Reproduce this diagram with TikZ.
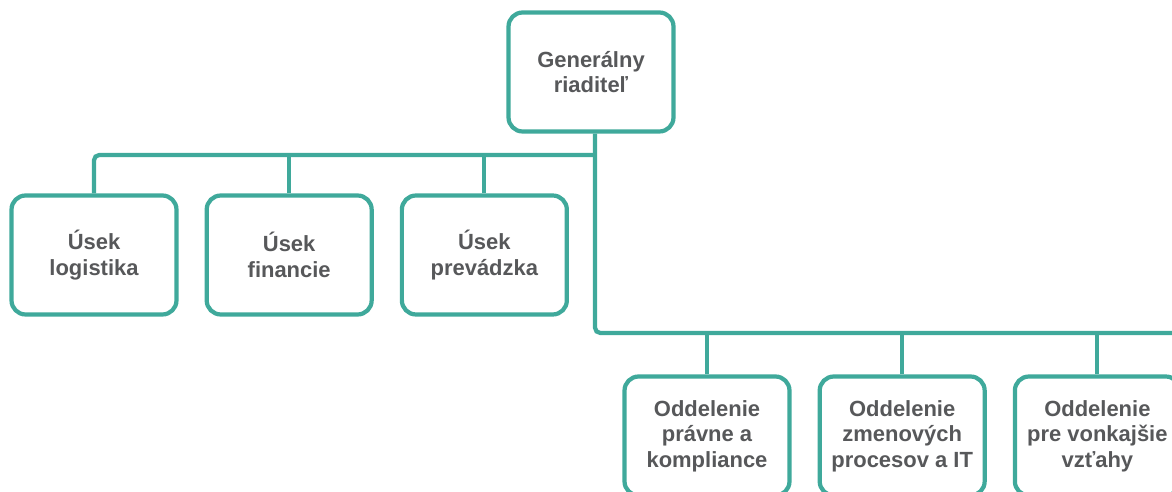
\documentclass[tikz,border=0pt]{standalone}
\usepackage{fontspec}
\setsansfont{Liberation Sans}
\usepackage{xcolor}
\usetikzlibrary{positioning}

\definecolor{teal}{HTML}{3FA99B}
\definecolor{txt}{HTML}{57585A}

\tikzset{
    unit/.style={draw=teal, line width=2.4pt, rounded corners=8pt, fill=white,
        minimum width=3.3cm, minimum height=2.38cm, align=center,
        text=txt, font=\sffamily\bfseries\fontsize{12.5}{14.5}\selectfont},
    conn/.style={draw=teal, line width=2.4pt, rounded corners=3pt}
}

\begin{document}
\begin{tikzpicture}[x=0.02cm, y=-0.02cm]
        \useasboundingbox (0,0) rectangle (1172,492);
        \clip (0,0) rectangle (1172,492);

        \coordinate (hub1) at (595,155);
        \coordinate (hub2) at (595,333);
        \coordinate (edge) at (1200,333);

        \node[unit]                        (gr)   at (591,72)  {Generálny\\riaditeľ};
        \node[unit]                        (log)  at (94,255)  {Úsek\\logistika};
        \node[unit, right=0.52cm of log]   (fin)  {Úsek\\financie};
        \node[unit, right=0.52cm of fin]   (prev) {Úsek\\prevádzka};

        \node[unit]                        (prav) at (707,436) {Oddelenie\\právne a\\kompliance};
        \node[unit, right=0.52cm of prav]  (zmen) {Oddelenie\\zmenových\\procesov a IT};
        \node[unit, right=0.52cm of zmen]  (vonk) {Oddelenie\\pre vonkajšie\\vzťahy};

        \draw[conn] (hub1 |- gr.south) -- (hub2) -- (edge);
        \draw[conn] (log.north)  |- (hub1);
        \draw[conn] (fin.north)  -- (fin.north |- hub1);
        \draw[conn] (prev.north) -- (prev.north |- hub1);
        \draw[conn] (prav.north) -- (prav.north |- hub2);
        \draw[conn] (zmen.north) -- (zmen.north |- hub2);
        \draw[conn] (vonk.north) -- (vonk.north |- hub2);
\end{tikzpicture}
\end{document}
